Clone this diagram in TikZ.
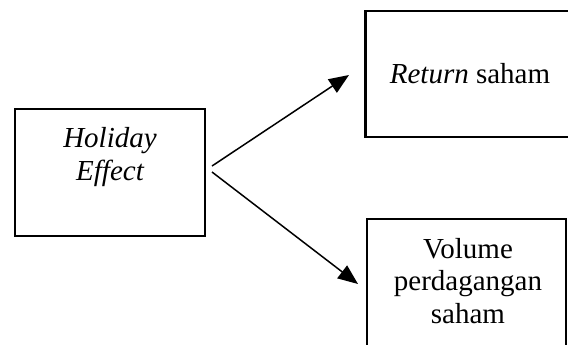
\documentclass[tikz,border=0pt]{standalone}
\usepackage{fontspec}
\setmainfont{Liberation Serif}
\usetikzlibrary{arrows.meta}
\begin{document}
\begin{tikzpicture}[x=0.5pt,y=-0.5pt,
  box/.style={draw=black,line width=1.1pt,inner sep=0pt,outer sep=0pt},
  txt/.style={anchor=base,inner sep=0pt,font=\fontsize{14.5pt}{16.5pt}\selectfont},
  arr/.style={line width=0.75pt,-{Triangle[length=10pt,width=8pt]}}]
\useasboundingbox (0,0) rectangle (568,344);
% boxes
\node[box,minimum width=95pt,minimum height=63.5pt] (hol) at (110,172.5) {};
\node[box,minimum width=103pt,minimum height=63pt] (ret) at (468.5,74) {};
\node[box,minimum width=99.5pt,minimum height=80pt] (vol) at (466.5,299) {};
% texts
\node[txt] (h1) at (110,147) {\itshape Holiday};
\node[txt] (h2) at (110,180) {\itshape Effect};
\node[txt] (r1) at (470,83) {\textit{Return} saham};
\node[txt] (v1) at (468,258) {Volume};
\node[txt] (v2) at (468,290) {perdagangan};
\node[txt] (v3) at (468,323) {saham};
% connectors
\coordinate (s1) at (212,166);
\coordinate (e1) at (349,75);
\coordinate (s2) at (212,172);
\coordinate (e2) at (358,284);
\draw[arr] (s1) -- (e1);
\draw[arr] (s2) -- (e2);
\end{tikzpicture}
\end{document}
